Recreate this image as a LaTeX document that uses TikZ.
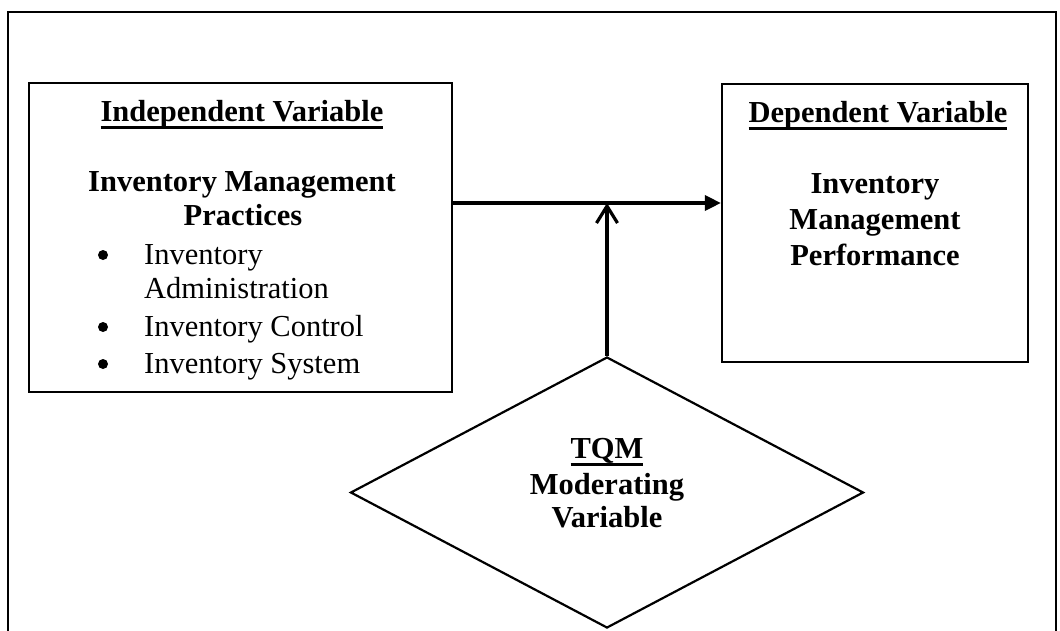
\documentclass[tikz,border=0pt]{standalone}
\usepackage{fontspec}
\setmainfont{Liberation Serif}
\usetikzlibrary{shapes.geometric}
\usetikzlibrary{arrows.meta}
\tikzset{
  varbox/.style={draw, line width=2.2pt, rectangle, inner sep=0pt},
  txt/.style={anchor=base, inner sep=0pt, font=\fontsize{30.5}{36}\selectfont},
  btxt/.style={txt, font=\fontsize{30.5}{36}\selectfont\bfseries},
  dot/.style={circle, fill, inner sep=0pt, minimum size=10pt},
  link/.style={line width=3.4pt}
}
% underline sitting just under the baseline
\newcommand{\varul}[1]{\setbox0\hbox{#1}\rlap{\vrule width\wd0 height -4.5pt depth 7.5pt}\box0}

\begin{document}
\begin{tikzpicture}[x=1pt, y=-1pt]
  \useasboundingbox (0,0) rectangle (1060,630);
  % outer frame
  \draw [line width=2pt] (8,640) -- (8,12) -- (1056,12) -- (1056,640);

  \node [varbox, minimum width=423pt, minimum height=309pt] (ivbox) at (240.5,237.5) {};
  \node [varbox, minimum width=306pt, minimum height=278pt] (dvbox) at (875,223) {};
  \node [draw, diamond, line width=2.2pt, inner sep=0pt, minimum width=513pt, minimum height=271pt] (tqm) at (607,492.5) {};

  % independent variable
  \node [btxt] (ivhead) at (242,121) {\varul{Independent Variable}};
  \node [btxt] (ivname1) at (242,191) {Inventory Management};
  \node [btxt] (ivname2) at (243,225) {Practices};
  \node [dot] (bul1) at (103,255) {};
  \node [txt, anchor=base west] (item1a) at (144,264) {Inventory};
  \node [txt, anchor=base west] (item1b) at (144,298) {Administration};
  \node [dot] (bul2) at (103,327) {};
  \node [txt, anchor=base west] (item2) at (144,336) {Inventory Control};
  \node [dot] (bul3) at (103,364) {};
  \node [txt, anchor=base west] (item3) at (144,373) {Inventory System};

  % dependent variable
  \node [btxt] (dvhead) at (878,122) {\varul{Dependent Variable}};
  \node [btxt] (dvname1) at (875,193) {Inventory};
  \node [btxt] (dvname2) at (875,229) {Management};
  \node [btxt] (dvname3) at (875,265) {Performance};

  % moderator
  \node [btxt] (tqmhead) at (607,458) {\varul{TQM}};
  \node [btxt] (tqmname1) at (607,494) {Moderating};
  \node [btxt] (tqmname2) at (607,527) {Variable};

  \coordinate (join) at (tqm.north |- 0,203);
  \draw [link, -{Triangle[length=16pt,width=15pt]}] (ivbox.east |- join) -- (dvbox.west |- join);
  \draw [link, -{Straight Barb[length=17pt,width=21pt,line width=3.2pt]}] (tqm.north) -- (join);
\end{tikzpicture}
\end{document}
